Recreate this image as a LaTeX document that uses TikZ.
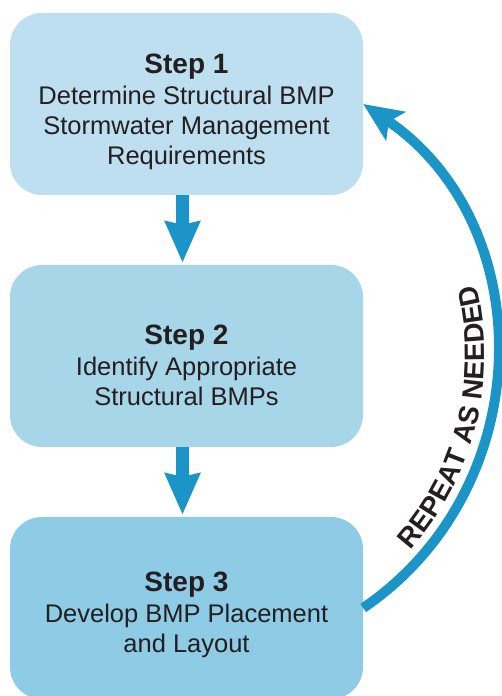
\documentclass[tikz,border=0pt]{standalone}
\usepackage{fontspec}
\setmainfont{Liberation Sans}
\usetikzlibrary{arrows.meta,decorations.text,calc}
\definecolor{boxA}{HTML}{BDDFEF}
\definecolor{boxB}{HTML}{A7D6E9}
\definecolor{boxC}{HTML}{8ECBE4}
\definecolor{arrowc}{HTML}{1B94C8}
\definecolor{txtc}{HTML}{231F20}
\begin{document}
\begin{tikzpicture}[x=1pt,y=1pt,
  stepbox/.style={rounded corners=32pt, minimum width=353pt, minimum height=182pt, inner sep=0pt, draw=none},
  steptext/.style={align=center, inner sep=0pt, text=txtc, font=\fontsize{25.5}{30}\selectfont},
  downarrow/.style={draw=arrowc, line width=13pt, -{Stealth[length=41pt, width=34pt, inset=3pt]}, shorten >=2pt},
  looparrow/.style={draw=arrowc, line width=10pt, -{Stealth[length=39pt, width=34pt, inset=8pt]}}
]
\useasboundingbox (0,0) rectangle (501,696);
\node[stepbox, fill=boxA] (b1) at (186.5,592) {};
\node[stepbox, fill=boxB] (b2) at (186.5,340) {};
\node[stepbox, fill=boxC] (b3) at (186.5,88) {};
\node[steptext] (t1) at ([yshift=-7.5pt]b1.center) {{\fontsize{28}{30}\selectfont\bfseries Step 1}\\[1pt]Determine Structural BMP\\Stormwater Management\\Requirements};
\node[steptext] (t2) at ([yshift=-9pt]b2.center) {{\fontsize{28}{30}\selectfont\bfseries Step 2}\\[1pt]Identify Appropriate\\Structural BMPs};
\node[steptext] (t3) at ([yshift=-7pt]b3.center) {{\fontsize{28}{30}\selectfont\bfseries Step 3}\\[1pt]Develop BMP Placement\\and Layout};
\draw[downarrow] ([xshift=-4pt]b1.south) -- ([xshift=-4pt]b2.north);
\draw[downarrow] ([xshift=-4pt]b2.south) -- ([xshift=-4pt]b3.north);
\draw[looparrow] (b3.east) to[bend right=55.7, looseness=1.09] (b1.east);
\coordinate (ctr) at (191.7,340.5);
\path[decorate, decoration={text along path, text align=center,
  text={|\fontsize{28}{28}\selectfont\bfseries\color{txtc}|REPEAT AS NEEDED}}]
  ($(ctr)+(-53.85:293)$) arc[start angle=-53.85, end angle=26.15, radius=293];
\end{tikzpicture}
\end{document}
